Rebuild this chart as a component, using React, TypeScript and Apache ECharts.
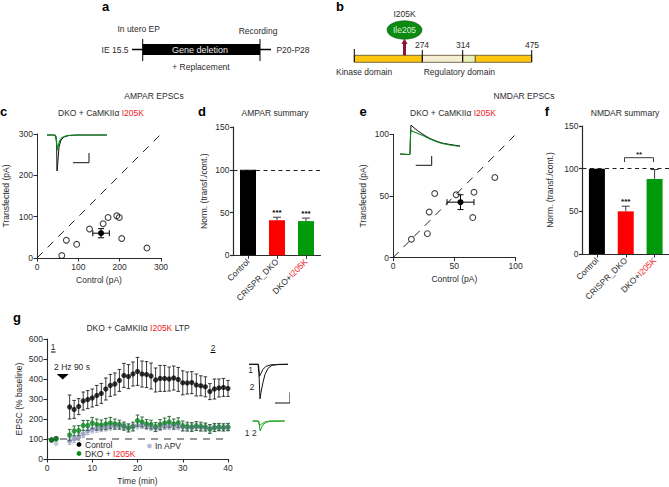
import React, { useEffect, useRef } from "react";
import * as echarts from "echarts";

const FONT = "Liberation Sans";
const INK = "#2b2b2b";
const RED = "#f01c24";
const GREEN = "#0a8a1e";

// panel c, e: [control, transfected]
const ampaPairs = [[60, 6], [71, 43], [96, 33], [127, 70], [160, 83], [172, 98], [193, 102], [199, 98], [205, 47], [266, 24]];
const ampaMean = [[155, 60, 20, 11]];
const nmdaPairs = [[15, 15], [28, 19.5], [29.5, 37], [34, 52], [51.5, 51], [66, 53], [65, 32.5], [83, 65]];
const nmdaMean = [[55, 45, 11, 6]];
const ampaUnity = [[0, 0], [297, 297]];
const nmdaUnity = [[0, 0], [99, 99]];

// panels d, f
const summaryCats = ["Control", "CRISPR_DKO", "DKO+I205K"];
const summaryColors = ["#000000", "#ff0000", "#009a0a"];
const ampaSummary = [100, 41, 40];
const ampaErr = [0, 3.5, 3.5];
const ampaStars = ["", "***", "***"];
const nmdaSummary = [100, 50, 88];
const nmdaErr = [0, 6, 11];
const nmdaStars = ["", "***", ""];

// panel g
const controlT = [5, 6, 7, 8, 9, 10, 11, 12, 13, 14, 15, 16, 17, 18, 19, 20, 21, 22, 23, 24, 25, 26, 27, 28, 29, 30, 31, 32, 33, 34, 35, 36, 37, 38, 39, 40];
const controlV = [260, 248, 262, 290, 297, 305, 318, 328, 350, 368, 375, 393, 418, 412, 425, 438, 425, 422, 415, 395, 403, 403, 400, 405, 398, 381, 380, 382, 370, 366, 361, 337, 350, 355, 358, 353];
const controlE = [60, 45, 40, 45, 45, 45, 50, 50, 55, 55, 55, 55, 60, 60, 60, 70, 65, 65, 65, 60, 65, 65, 60, 60, 60, 60, 55, 55, 55, 50, 50, 40, 50, 45, 45, 40];
const earlyT = [1, 2];
const controlEarly = [95, 102];
const greenV = [120, 140, 142, 168, 168, 180, 172, 170, 175, 180, 175, 172, 165, 155, 162, 192, 185, 175, 172, 160, 172, 180, 185, 175, 181, 165, 162, 160, 165, 162, 160, 150, 158, 160, 158, 160];
const greenE = [28, 25, 25, 25, 25, 28, 28, 25, 28, 28, 25, 22, 20, 20, 22, 28, 25, 22, 22, 22, 25, 25, 28, 25, 25, 25, 22, 22, 22, 22, 20, 22, 20, 18, 18, 18];
const greenEarly = [95, 100];
const apvV = [90, 100, 110, 125, 140, 148, 152, 155, 158, 162, 165, 165, 160, 158, 162, 168, 170, 165, 160, 155, 160, 165, 165, 165, 165, 160, 158, 158, 160, 158, 158, 152, 155, 158, 158, 158];
const apvE = [18, 18, 18, 18, 18, 18, 18, 18, 18, 18, 18, 18, 18, 18, 18, 18, 18, 18, 18, 18, 18, 18, 18, 18, 18, 18, 18, 18, 18, 18, 18, 18, 18, 18, 18, 18];
const apvEarly = [95, 78];
const baseline = [[0, 100], [40.6, 100]];

// inset traces [time, amplitude]
const ampaTraceBlack = [[0, 0], [7, 0], [9, -1], [9.6, -10], [10, -36], [10.6, -30], [12, -12], [14, -5], [17, -2], [22, -0.5], [30, 0], [60, 0]];
const ampaTraceGreen = [[0, 0], [8, 0], [9.5, -6], [10.2, -15], [11, -12], [12.5, -6], [15, -2.5], [20, -0.5], [30, 0], [60, 0]];
const ampaScale = [[26, -27.7], [42, -27.7], [42, -18]];
const nmdaTraceBlack = [[0, 0], [9, -0.5], [10, 0], [10.5, 20], [11, 29], [13, 27], [18, 23], [24, 19], [30, 15.5], [36, 13], [42, 11], [50, 9.5], [60, 8]];
const nmdaTraceGreen = [[0, 0], [9, -0.5], [10, 0], [10.5, 18], [11, 23.5], [13, 22.5], [18, 20.5], [24, 18], [30, 15], [36, 12.5], [42, 10.5], [50, 9], [60, 7.5]];
const nmdaScale = [[15.7, -11.3], [31.7, -11.3], [31.7, -2]];
const ltpBlack2 = [[0, 0], [9, 0], [10, -10], [11, -34.5], [12, -28], [14, -18], [16, -10], [19, -4], [23, -1], [30, 0], [39, 0]];
const ltpBlack1 = [[0, 0], [9.5, 0], [10.5, -12], [12, -9], [14, -5], [17, -2], [22, -0.5], [39, 0]];
const ltpScale = [[26, -38.7], [41, -38.7], [41, -28]];
const ltpGreen2 = [[0, 0], [5.5, 0], [6.5, -3], [7.5, -10], [9, -6], [11, -3], [14, -1], [18, -0.3], [32, 0]];
const ltpGreen1 = [[0, 0], [6, 0], [7, -4.5], [9, -3], [12, -1], [17, 0], [32, 0]];

const richBase = { fontFamily: FONT, fontSize: 8.5 };
const titleRich = { k: { ...richBase, fill: INK, color: INK }, r: { ...richBase, fill: RED, color: RED } };

function txt(text: string, x: number, y: number, o: any = {}) {
  return {
    type: "text",
    x,
    y,
    silent: true,
    style: { text, fontFamily: FONT, fontSize: 8.5, fill: INK, align: "center", verticalAlign: "middle", ...o },
  };
}
function letter(text: string, x: number, y: number) {
  return txt(text, x, y, { fontSize: 13, fontWeight: "bold", fill: "#000" });
}
function ln(x1: number, y1: number, x2: number, y2: number, stroke = "#000", lineWidth = 1) {
  return { type: "line", silent: true, shape: { x1, y1, x2, y2 }, style: { stroke, lineWidth } };
}
function box(x: number, y: number, width: number, height: number, fill: string, stroke?: string) {
  return { type: "rect", silent: true, shape: { x, y, width, height }, style: { fill, stroke, lineWidth: 0.8 } };
}
function rich(x: number, y: number, text: string) {
  return { type: "text", x, y, silent: true, style: { text, rich: titleRich, fontFamily: FONT, fontSize: 8.5, align: "center", verticalAlign: "middle" } };
}

function valueAxis(gridIndex: number, min: number, max: number, interval: number, name: string, nameGap: number, width = 1) {
  return {
    gridIndex, type: "value", min, max, interval, name, nameLocation: "middle", nameGap,
    nameTextStyle: { fontFamily: FONT, fontSize: 8.5, color: INK },
    splitLine: { show: false },
    axisLine: { show: true, onZero: false, lineStyle: { color: INK, width } },
    axisTick: { show: true, length: 3.5, lineStyle: { color: INK, width } },
    axisLabel: { fontFamily: FONT, fontSize: 8.5, color: INK, margin: 4, hideOverlap: false, showMinLabel: true, showMaxLabel: true },
  };
}
function hiddenAxis(gridIndex: number, min: number, max: number) {
  return { gridIndex, type: "value", min, max, show: false, splitLine: { show: false } };
}
function catAxis(gridIndex: number) {
  return {
    gridIndex, type: "category", data: summaryCats,
    axisLine: { show: true, lineStyle: { color: INK, width: 1.2 } },
    axisTick: { show: true, alignWithLabel: true, length: 3.5, lineStyle: { color: INK, width: 1 } },
    axisLabel: {
      rotate: 45, interval: 0, margin: 5, fontFamily: FONT, fontSize: 8.5, color: INK,
      formatter: (v: string) => (v === "DKO+I205K" ? "{k|DKO+}{r|I205K}" : "{k|" + v + "}"),
      rich: { k: { fontFamily: FONT, fontSize: 8.5, color: INK }, r: { fontFamily: FONT, fontSize: 8.5, color: RED } },
    },
  };
}

function trace(i: number, data: number[][], color: string, width = 1, z = 5) {
  return { type: "line", xAxisIndex: i, yAxisIndex: i, data, showSymbol: false, symbol: "none", clip: false, silent: true, z, lineStyle: { color, width } };
}
function unity(i: number, data: number[][]) {
  return { type: "line", xAxisIndex: i, yAxisIndex: i, data, symbol: "none", silent: true, clip: false, z: 1, lineStyle: { color: "#222", width: 1, type: [8, 7] } };
}
function openPoints(i: number, data: number[][]) {
  return { type: "scatter", xAxisIndex: i, yAxisIndex: i, data, symbol: "circle", symbolSize: 5.8, silent: true, z: 3, itemStyle: { color: "rgba(255,255,255,0)", borderColor: "#111", borderWidth: 1.1 } };
}
function meanCross(i: number, data: number[][]) {
  return {
    type: "custom", xAxisIndex: i, yAxisIndex: i, data, silent: true, clip: false, z: 4,
    renderItem: (_: any, api: any) => {
      const [x, y, ex, ey] = [api.value(0), api.value(1), api.value(2), api.value(3)];
      const c = api.coord([x, y]), l = api.coord([x - ex, y]), r = api.coord([x + ex, y]), t = api.coord([x, y + ey]), b = api.coord([x, y - ey]);
      const st = { stroke: "#000", lineWidth: 1 };
      return {
        type: "group",
        children: [
          { type: "line", shape: { x1: l[0], y1: l[1], x2: r[0], y2: r[1] }, style: st },
          { type: "line", shape: { x1: t[0], y1: t[1], x2: b[0], y2: b[1] }, style: st },
          { type: "line", shape: { x1: l[0], y1: l[1] - 3, x2: l[0], y2: l[1] + 3 }, style: st },
          { type: "line", shape: { x1: r[0], y1: r[1] - 3, x2: r[0], y2: r[1] + 3 }, style: st },
          { type: "line", shape: { x1: t[0] - 3, y1: t[1], x2: t[0] + 3, y2: t[1] }, style: st },
          { type: "line", shape: { x1: b[0] - 3, y1: b[1], x2: b[0] + 3, y2: b[1] }, style: st },
          { type: "circle", shape: { cx: c[0], cy: c[1], r: 3 }, style: { fill: "#000" } },
        ],
      };
    },
  };
}
function bars(i: number, values: number[]) {
  return {
    type: "bar", xAxisIndex: i, yAxisIndex: i, barWidth: 16, silent: true,
    data: values.map((v, k) => ({ value: v, itemStyle: { color: summaryColors[k] } })),
    markLine: { silent: true, symbol: "none", label: { show: false }, lineStyle: { color: "#222", width: 1, type: [4, 3.5] }, data: [{ yAxis: 100 }] },
  };
}
function barErrors(i: number, values: number[], errs: number[], stars: string[]) {
  return {
    type: "custom", xAxisIndex: i, yAxisIndex: i, silent: true, clip: false, z: 4,
    data: values.map((v, k) => [k, v, errs[k]]),
    renderItem: (p: any, api: any) => {
      const k = api.value(0), v = api.value(1), e = api.value(2);
      const a = api.coord([k, v]), b = api.coord([k, v + e]);
      const st = { stroke: "#3a3a3a", lineWidth: 1 };
      const children: any[] = [];
      if (e > 0) {
        children.push({ type: "line", shape: { x1: a[0], y1: a[1], x2: b[0], y2: b[1] }, style: st });
        children.push({ type: "line", shape: { x1: b[0] - 4, y1: b[1], x2: b[0] + 4, y2: b[1] }, style: st });
      }
      const s = stars[p.dataIndex];
      if (s) children.push({ type: "text", x: a[0], y: b[1] - 5, style: { text: s, fontFamily: FONT, fontSize: 8, fontWeight: "bold", fill: "#000", align: "center", verticalAlign: "middle" } });
      return { type: "group", children };
    },
  };
}
function timeErrors(i: number, t: number[], v: number[], e: number[], stroke: string, z: number) {
  return {
    type: "custom", xAxisIndex: i, yAxisIndex: i, silent: true, clip: false, z,
    data: t.map((x, k) => [x, v[k], e[k]]),
    renderItem: (_: any, api: any) => {
      const x = api.value(0), y = api.value(1), er = api.value(2);
      const a = api.coord([x, y + er]), b = api.coord([x, y - er]);
      const st = { stroke, lineWidth: 0.9 };
      return {
        type: "group",
        children: [
          { type: "line", shape: { x1: a[0], y1: a[1], x2: b[0], y2: b[1] }, style: st },
          { type: "line", shape: { x1: a[0] - 1.8, y1: a[1], x2: a[0] + 1.8, y2: a[1] }, style: st },
          { type: "line", shape: { x1: b[0] - 1.8, y1: b[1], x2: b[0] + 1.8, y2: b[1] }, style: st },
        ],
      };
    },
  };
}
function timePoints(i: number, t: number[], v: number[], color: string, z: number) {
  return { type: "scatter", xAxisIndex: i, yAxisIndex: i, silent: true, clip: false, z, symbol: "circle", symbolSize: 5.2, data: t.map((x, k) => [x, v[k]]), itemStyle: { color } };
}

const APV_FILL = "rgba(110,115,160,0.45)";

function buildOption() {
  const grids = [
    { left: 37, top: 134, width: 124, height: 124 }, // 0 c
    { left: 233.5, top: 127, width: 87, height: 128.3 }, // 1 d
    { left: 393, top: 134.3, width: 122.7, height: 123.4 }, // 2 e
    { left: 582.5, top: 126, width: 86.5, height: 128 }, // 3 f
    { left: 47, top: 339, width: 181, height: 120 }, // 4 g
    { left: 47, top: 135, width: 60, height: 40 }, // 5 inset c
    { left: 400, top: 124, width: 60, height: 30 }, // 6 inset e
    { left: 249, top: 364.3, width: 40, height: 40 }, // 7 inset g black
    { left: 252.7, top: 421, width: 33, height: 12 }, // 8 inset g green
  ];
  const xAxis: any[] = [
    valueAxis(0, 0, 300, 100, "Control (pA)", 17),
    catAxis(1),
    valueAxis(2, 0, 100, 50, "Control (pA)", 17),
    catAxis(3),
    valueAxis(4, 0, 40, 10, "Time (min)", 17, 1.1),
    hiddenAxis(5, 0, 60),
    hiddenAxis(6, 0, 60),
    hiddenAxis(7, 0, 40),
    hiddenAxis(8, 0, 33),
  ];
  const yAxis: any[] = [
    valueAxis(0, 0, 300, 100, "Transfected (pA)", 27),
    valueAxis(1, 0, 150, 50, "Norm. (transf./cont.)", 25, 1.2),
    valueAxis(2, 0, 100, 50, "Transfected (pA)", 26),
    valueAxis(3, 0, 150, 50, "Norm. (transf./cont.)", 28, 1.2),
    valueAxis(4, 0, 600, 100, "EPSC (% baseline)", 24, 1.1),
    hiddenAxis(5, -40, 0),
    hiddenAxis(6, 0, 30),
    hiddenAxis(7, -40, 0),
    hiddenAxis(8, -12, 0),
  ];
  const series: any[] = [
    unity(0, ampaUnity), openPoints(0, ampaPairs), meanCross(0, ampaMean),
    bars(1, ampaSummary), barErrors(1, ampaSummary, ampaErr, ampaStars),
    unity(2, nmdaUnity), openPoints(2, nmdaPairs), meanCross(2, nmdaMean),
    bars(3, nmdaSummary), barErrors(3, nmdaSummary, nmdaErr, nmdaStars),
    { type: "line", xAxisIndex: 4, yAxisIndex: 4, data: baseline, symbol: "none", silent: true, clip: false, z: 1, lineStyle: { color: "#333", width: 1, type: [7, 6] } },
    timeErrors(4, controlT, controlV, controlE, "#222", 3),
    timePoints(4, controlT, controlV, "#000", 4),
    timePoints(4, earlyT, controlEarly, "#000", 4),
    timeErrors(4, controlT, apvV, apvE, "#a8aac8", 2),
    timePoints(4, controlT, apvV, "#b9bbd4", 2),
    timePoints(4, earlyT, apvEarly, "#b9bbd4", 2),
    timeErrors(4, controlT, greenV, greenE, "#1d5a2a", 5),
    timePoints(4, controlT, greenV, GREEN, 6),
    timePoints(4, earlyT, greenEarly, GREEN, 6),
    timePoints(4, controlT, apvV, APV_FILL, 7),
    trace(5, ampaTraceBlack, "#111", 1),
    trace(5, ampaTraceGreen, GREEN, 1.2, 6),
    trace(5, ampaScale, "#111", 1),
    trace(6, nmdaTraceBlack, "#111", 1),
    trace(6, nmdaTraceGreen, GREEN, 1.1, 6),
    trace(6, nmdaScale, "#111", 1),
    trace(7, ltpBlack2, "#111", 1),
    trace(7, ltpBlack1, "#111", 1),
    trace(7, ltpScale, "#111", 1),
    trace(8, ltpGreen2, "#1aa51a", 1),
    trace(8, ltpGreen1, "#1aa51a", 1),
  ];
  const graphic: any[] = [
    // a
    letter("a", 105.5, 6),
    txt("In utero EP", 138.7, 29),
    txt("Recording", 258, 31),
    txt("IE 15.5", 115, 49.5),
    txt("P20-P28", 293, 49.5),
    ln(132, 49.5, 143, 49.5, "#000", 1.5),
    ln(260, 49.5, 271, 49.5, "#000", 1.5),
    box(142.7, 44, 117.3, 11, "#000"),
    ln(142.7, 39, 142.7, 61),
    ln(260, 39, 260, 61),
    txt("Gene deletion", 200, 49.5, { fill: "#e8e8e8", fontSize: 9 }),
    txt("+ Replacement", 201, 67),
    // b
    letter("b", 340, 6),
    txt("I205K", 404.5, 14),
    box(354.3, 55.3, 68, 7, "#fcc70e", "#55472a"),
    box(422.3, 55.3, 40.4, 7, "#f6eed2", "#55472a"),
    box(462.7, 55.3, 12.6, 7, "#e9f1bb", "#55472a"),
    box(475.3, 55.3, 56.4, 7, "#fcc70e", "#55472a"),
    ln(354.3, 49, 354.3, 62),
    ln(422.3, 50, 422.3, 62),
    ln(462.7, 50, 462.7, 62),
    ln(531.7, 50, 531.7, 62),
    ln(404.5, 41, 404.5, 55.3, "#8c1538", 3),
    { type: "polygon", silent: true, shape: { points: [[404.5, 38.5], [401.5, 44], [407.5, 44]] }, style: { fill: "#8c1538" } },
    { type: "ellipse", silent: true, shape: { cx: 404.5, cy: 30, rx: 17.5, ry: 9.2 }, style: { fill: "#0c8a12", stroke: "#0a5a10", lineWidth: 0.6 } },
    txt("Ile205", 404.5, 30, { fill: "#d8f0d8" }),
    txt("274", 422, 45),
    txt("314", 463, 45),
    txt("475", 532, 45),
    txt("Kinase domain", 336, 71.5, { align: "left" }),
    txt("Regulatory domain", 423.7, 71.5, { align: "left" }),
    // section headers
    txt("AMPAR EPSCs", 154, 96),
    txt("NMDAR EPSCs", 524, 96),
    letter("c", 3.5, 111),
    rich(101, 113, "{k|DKO + CaMKII\u03b1 }{r|I205K}"),
    letter("d", 202, 111),
    txt("AMPAR summary", 275, 113),
    letter("e", 363, 111),
    rich(453, 113, "{k|DKO + CaMKII\u03b1 }{r|I205K}"),
    letter("f", 547, 111),
    txt("NMDAR summary", 625, 113),
    // bracket in f
    { type: "polyline", silent: true, shape: { points: [[624.5, 162], [624.5, 157.7], [653.5, 157.7], [653.5, 162]] }, style: { stroke: "#222", lineWidth: 0.9, fill: "none" } },
    txt("**", 639, 154, { fontWeight: "bold", fontSize: 8 }),
    // g
    letter("g", 17, 317),
    rich(138, 328, "{k|DKO + CaMKII\u03b1 }{r|I205K}{k| LTP}"),
    txt("1", 53, 346.5),
    ln(51, 352, 55.5, 352),
    txt("2", 213, 348),
    ln(210.5, 352.5, 215.5, 352.5),
    txt("2 Hz 90 s", 72, 367),
    { type: "polygon", silent: true, shape: { points: [[56.7, 374], [68.7, 374], [62.7, 379.5]] }, style: { fill: "#000" } },
    { type: "circle", silent: true, shape: { cx: 79, cy: 444.5, r: 2.4 }, style: { fill: "#000" } },
    txt("Control", 85, 444.5, { align: "left" }),
    { type: "circle", silent: true, shape: { cx: 79, cy: 453.5, r: 2.4 }, style: { fill: GREEN } },
    { type: "text", x: 85, y: 453.5, silent: true, style: { text: "{k|DKO + }{r|I205K}", rich: titleRich, fontFamily: FONT, fontSize: 8.5, align: "left", verticalAlign: "middle" } },
    { type: "circle", silent: true, shape: { cx: 149.5, cy: 446, r: 2.4 }, style: { fill: "#b9bbd4" } },
    txt("In APV", 155, 446, { align: "left" }),
    txt("1", 250.7, 370),
    txt("2", 252, 387),
    txt("1 2", 250.7, 433),
  ];
  return { animation: false, backgroundColor: "#fff", textStyle: { fontFamily: FONT }, grid: grids, xAxis, yAxis, series, graphic };
}

export default function App() {
  const ref = useRef<HTMLDivElement>(null);
  useEffect(() => {
    const chart = echarts.init(ref.current!, undefined, { renderer: "svg" });
    chart.setOption(buildOption() as any);
    return () => chart.dispose();
  }, []);
  return <div ref={ref} style={{ position: "fixed", left: 0, top: 0, width: 669, height: 487 }} />;
}
